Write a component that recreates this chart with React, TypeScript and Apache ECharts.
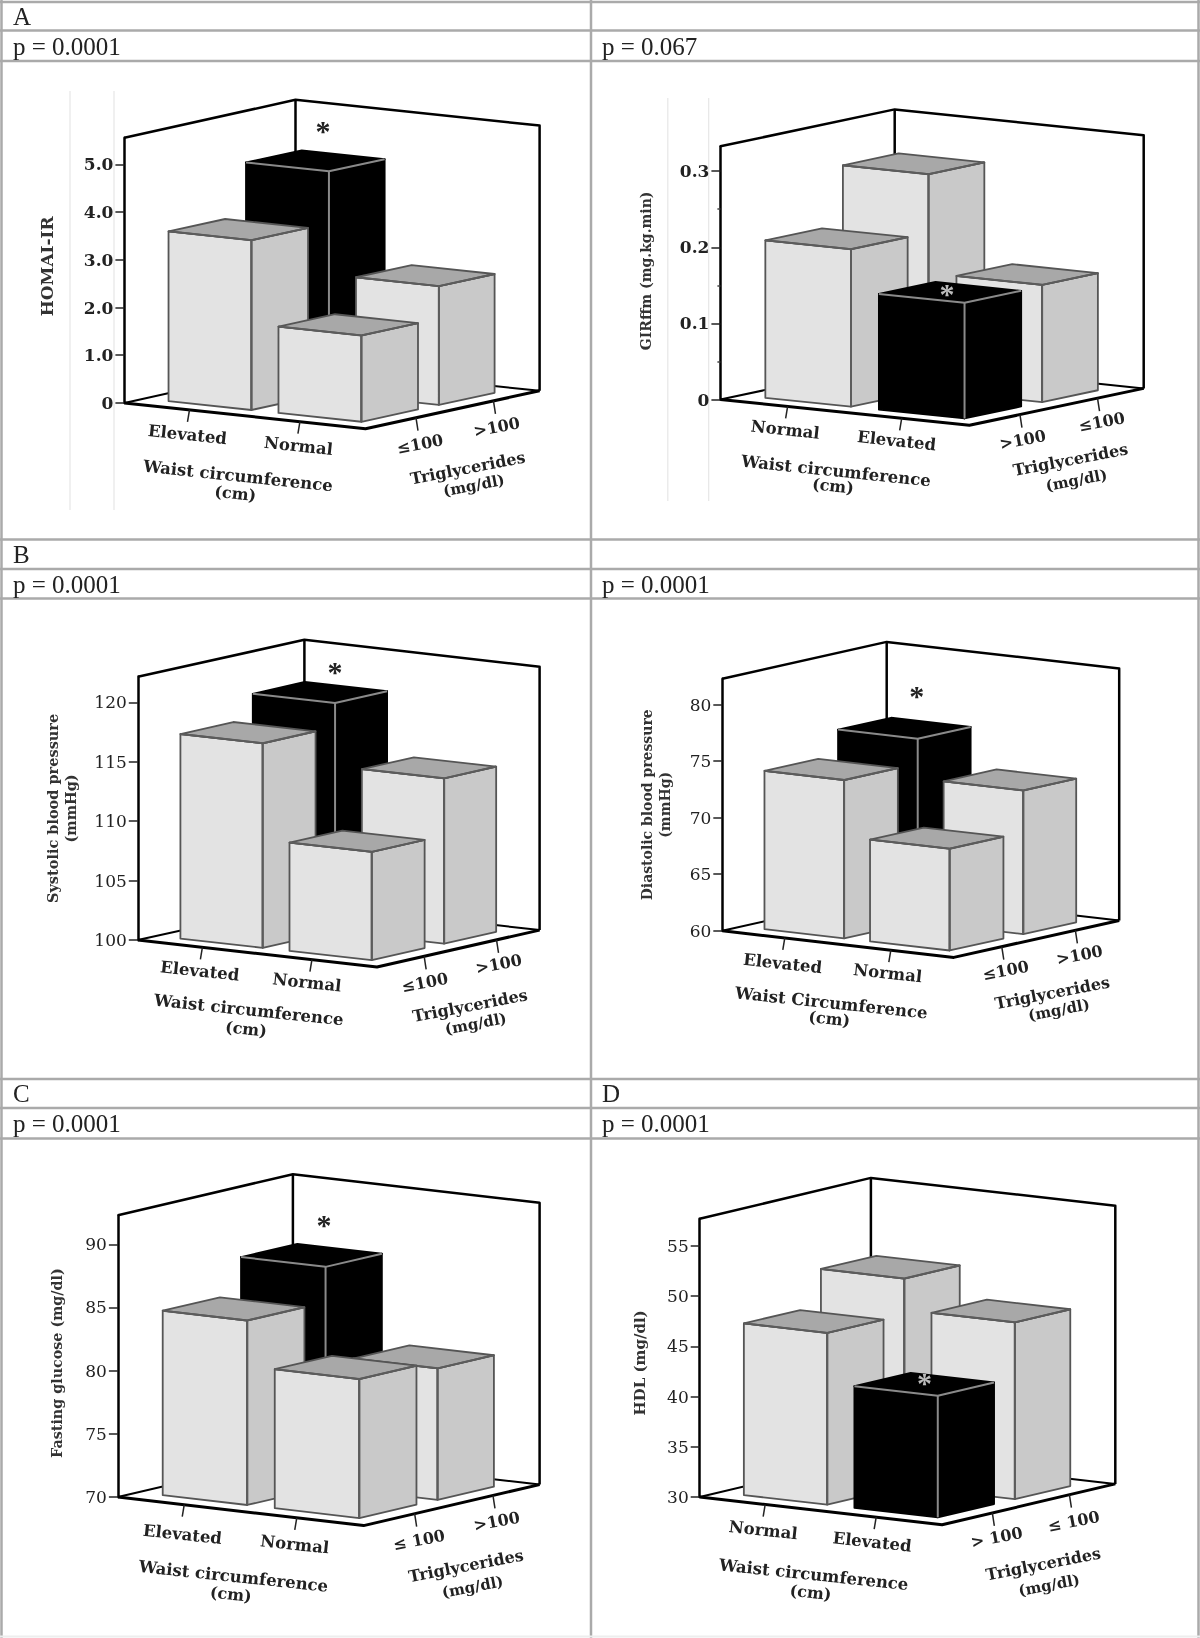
import React, { useEffect, useRef } from "react";
import * as echarts from "echarts";

// ---- categories (left to right along each floor axis) ----
const waistElevatedFirst = ["Elevated", "Normal"];
const waistNormalFirst = ["Normal", "Elevated"];
const tgLowFirst = ["≤100", ">100"];
const tgHighFirst = [">100", "≤100"];
const tgLowFirstSpaced = ["≤ 100", ">100"];
const tgHighFirstSpaced = ["> 100", "≤ 100"];

// ---- series values: [back-left, back-right, front-left, front-right] ----
const homaValues = [4.65, 2.49, 3.56, 1.81];
const girValues = [0.284, 0.154, 0.207, 0.152];
const systolicValues = [119.2, 113.9, 117.2, 109.1];
const diastolicValues = [76.2, 72.7, 74.0, 69.0];
const glucoseValues = [87.4, 80.4, 84.6, 81.0];
const hdlValues = [50.7, 47.6, 47.1, 42.1];

// ---- y axis ticks ----
const homaTicks = [0, 1, 2, 3, 4, 5];
const girTicks = [0, 0.1, 0.2, 0.3];
const systolicTicks = [100, 105, 110, 115, 120];
const diastolicTicks = [60, 65, 70, 75, 80];
const glucoseTicks = [70, 75, 80, 85, 90];
const hdlTicks = [30, 35, 40, 45, 50, 55];

const cellOrder = [[0, 1], [1, 1], [0, 0], [1, 0]];
const uSpans = [[0.1, 0.444], [0.556, 0.9]];
const vSpans = [[0.115, 0.44], [0.56, 0.88]];
const uCentres = [0.27, 0.728];
const vCentres = [0.29, 0.735];

const serif = "'DejaVu Serif'";
const tableFont = "'Liberation Serif'";

const panels = [
  {
    p: "p = 0.0001", letter: "A", col: 0, row: 0,
    name: "HOMAI-IR", nameSize: 17, namePad: [0, 0, 0, 8], values: homaValues, ticks: homaTicks, min: 0, max: 5.56, interval: 1, black: 0,
    fmt: (v: number) => (v === 0 ? "0" : v.toFixed(1)),
    waist: waistElevatedFirst, tg: tgLowFirst, waistTitle: "Waist circumference", bold: true,
    g: { ox: 124.4, oy: 402.9, h: 265.2, ux: 241.1, uy: 25.8, vx: 174.1, vy: -37.9, nameX: 46.7, bdx: -3 },
    labels: [[187.5, 434.6], [298.5, 446], [238, 476], [235.4, 493.5], [420, 444], [496.7, 427], [467.7, 468], [473.8, 485.5]],
    star: [323, 129, "#222"], faint: [[70, 91, 510], [114, 91, 510]],
  },
  {
    p: "p = 0.067", letter: "", col: 1, row: 0,
    name: "GIRffm (mg.kg.min)", nameSize: 14, namePad: [0, 0, 0, 4], values: girValues, ticks: girTicks, min: 0, max: 0.3327, interval: 0.1, black: 3,
    fmt: (v: number) => (v === 0 ? "0" : v.toFixed(1)),
    waist: waistNormalFirst, tg: tgHighFirst, waistTitle: "Waist circumference", bold: true,
    g: { ox: 720.4, oy: 399.5, h: 253.2, ux: 249, uy: 25.8, vx: 174.3, vy: -36.9, nameX: 646.4, bdx: 0 },
    labels: [[785.3, 429.7], [896.6, 440.8], [836, 471], [833, 486], [1022.7, 439.7], [1101.7, 421.8], [1070.5, 459.7], [1076.4, 480.4]],
    star: [947, 292, "#bbb"], faint: [[667.8, 98, 501], [708.7, 98, 501]], minor: true,
  },
  {
    p: "p = 0.0001", letter: "B", col: 0, row: 1,
    name: "Systolic blood pressure\n(mmHg)", nameSize: 14.5, namePad: 0, values: systolicValues, ticks: systolicTicks, min: 100, max: 122.15, interval: 5, black: 0,
    fmt: (v: number) => String(v),
    waist: waistElevatedFirst, tg: tgLowFirst, waistTitle: "Waist circumference", bold: false,
    g: { ox: 137.8, oy: 940.1, h: 263.4, ux: 239.2, uy: 26.9, vx: 162.6, vy: -36.9, nameX: 61, bdx: 4 },
    labels: [[199.8, 971], [307, 982.5], [248.8, 1010], [246, 1029], [424.8, 982.5], [498.7, 964], [470, 1005.6], [475.7, 1023.8]],
    star: [334.9, 670, "#222"], faint: [],
  },
  {
    p: "p = 0.0001", letter: "", col: 1, row: 1,
    name: "Diastolic blood pressure\n(mmHg)", nameSize: 14, namePad: 0, values: diastolicValues, ticks: diastolicTicks, min: 60, max: 82.28, interval: 5, black: 0,
    fmt: (v: number) => String(v),
    waist: waistElevatedFirst, tg: tgLowFirst, waistTitle: "Waist Circumference", bold: false,
    g: { ox: 722.3, oy: 930.8, h: 252, ux: 231.5, uy: 26.6, vx: 165.4, vy: -36.9, nameX: 656, bdx: -1 },
    labels: [[782.6, 963.5], [887.7, 973.2], [831.2, 1003], [829.3, 1018.7], [1005.6, 970.4], [1079.5, 955], [1052.3, 992.8], [1058.9, 1010]],
    star: [916.8, 694.3, "#222"], faint: [],
  },
  {
    p: "p = 0.0001", letter: "C", col: 0, row: 2,
    name: "Fasting glucose (mg/dl)", nameSize: 14.3, namePad: [0, 14, 0, 0], values: glucoseValues, ticks: glucoseTicks, min: 70, max: 92.3, interval: 5, black: 0,
    fmt: (v: number) => String(v),
    waist: waistElevatedFirst, tg: tgLowFirstSpaced, waistTitle: "Waist circumference", bold: false,
    g: { ox: 117.9, oy: 1497, h: 281.8, ux: 245.7, uy: 28.6, vx: 176, vy: -41, nameX: 57.4, bdx: -1 },
    labels: [[182.5, 1534.4], [294.7, 1544.4], [233.4, 1576.4], [230.8, 1594.2], [419, 1540], [496.7, 1521.3], [466, 1565.8], [472.6, 1587]],
    star: [324, 1223, "#222"], faint: [],
  },
  {
    p: "p = 0.0001", letter: "D", col: 1, row: 2,
    name: "HDL (mg/dl)", nameSize: 15, namePad: [0, 10, 0, 0], values: hdlValues, ticks: hdlTicks, min: 30, max: 57.7, interval: 5, black: 3,
    fmt: (v: number) => String(v),
    waist: waistNormalFirst, tg: tgHighFirstSpaced, waistTitle: "Waist circumference", bold: false,
    g: { ox: 699.7, oy: 1497, h: 278.2, ux: 242.4, uy: 27.8, vx: 173.2, vy: -40.9, nameX: 639.8, bdx: -2 },
    labels: [[763.2, 1530.2], [872.1, 1542], [813.7, 1574.7], [810.6, 1592.5], [996.6, 1537.3], [1073.7, 1521.3], [1043.3, 1564], [1049.1, 1585.3]],
    star: [924.6, 1381.4, "#bbb"], faint: [],
  },
];

const rowLines = [2, 30.5, 61, 539.5, 569, 598.5, 1079, 1108, 1138.5];
const colLines = [1.5, 591, 1198.5];
const rowText = [[16, 46], [554, 584], [1093, 1123]];
const colText = [13, 602];

const project = (api: any, g: any, span: number) => (u: number, v: number, z: number) => {
  const c = api.coord([(u * g.ux + v * g.vx) / span, z]);
  return [c[0], c[1] + u * g.uy + v * g.vy];
};

const line = (points: number[][], stroke: string, lineWidth: number) => ({
  type: "polyline",
  shape: { points },
  style: { stroke, lineWidth, fill: "none", lineJoin: "round" },
});

const frameRender = (panel: any) => (_: any, api: any) => {
  const g = panel.g;
  const pt = project(api, g, g.ux + g.vx);
  const lo = panel.min;
  const hi = panel.max;
  const backTop = pt(0, 1, hi);
  const backLow = pt(0, 1, lo);
  backTop[0] += g.bdx;
  backLow[0] += g.bdx;
  const children: any[] = [
    line([pt(0, 0, hi), backTop, pt(1, 1, hi), pt(1, 1, lo)], "#000", 2.5),
    line([backTop, backLow], "#000", 2.5),
    line([pt(0, 0, lo), backLow, pt(1, 1, lo)], "#000", 2),
    line([pt(0, 0, lo), pt(1, 0, lo), pt(1, 1, lo)], "#000", 3),
  ];
  uCentres.forEach((u) => {
    const a = pt(u, 0, lo);
    children.push(line([a, [a[0] - 2, a[1] + 12]], "#222", 1.5));
  });
  vCentres.forEach((v) => {
    const a = pt(1, v, lo);
    children.push(line([a, [a[0] + 2, a[1] + 13]], "#222", 1.5));
  });
  return { type: "group", children };
};

const barRender = (panel: any) => (params: any, api: any) => {
  const g = panel.g;
  const pt = project(api, g, g.ux + g.vx);
  const wi = api.value(0);
  const ti = api.value(1);
  const val = api.value(2);
  const isBlack = params.dataIndex === panel.black;
  const [u0, u1] = uSpans[wi];
  const [v0, v1] = vSpans[ti];
  const lo = panel.min;
  const edge = isBlack ? "#000" : "#555";
  const inner = isBlack ? "#8a8a8a" : "#5c5c5c";
  const face = (points: number[][], fill: string) => ({
    type: "polygon",
    shape: { points },
    style: { fill, stroke: edge, lineWidth: 1.8, lineJoin: "round" },
  });
  const topFill = isBlack ? "#000" : "#a8a8a8";
  return {
    type: "group",
    children: [
      face([pt(u0, v0, lo), pt(u1, v0, lo), pt(u1, v0, val), pt(u0, v0, val)], isBlack ? "#000" : "#e3e3e3"),
      face([pt(u1, v0, lo), pt(u1, v1, lo), pt(u1, v1, val), pt(u1, v0, val)], isBlack ? "#000" : "#c9c9c9"),
      face([pt(u0, v0, val), pt(u1, v0, val), pt(u1, v1, val), pt(u0, v1, val)], topFill),
      line([pt(u0, v0, val), pt(u1, v0, val), pt(u1, v1, val)], inner, 2),
      line([pt(u1, v0, val), pt(u1, v0, lo)], inner, 2),
    ],
  };
};

const txt = (text: string, x: number, y: number, size: number, opts: any = {}) => ({
  type: "text",
  x,
  y,
  rotation: opts.rotation ?? 0,
  z: opts.z ?? 50,
  style: {
    text,
    fontFamily: opts.family ?? serif,
    fontSize: size,
    fontWeight: opts.weight ?? "normal",
    fill: opts.fill ?? "#222",
    align: opts.align ?? "center",
    verticalAlign: "middle",
  },
});

const buildOption = () => {
  const graphic: any[] = [];
  rowLines.forEach((y) =>
    graphic.push({ type: "line", z: 0, shape: { x1: 0, y1: y, x2: 1200, y2: y }, style: { stroke: "#aaa", lineWidth: 2.5 } })
  );
  colLines.forEach((x) =>
    graphic.push({ type: "line", z: 0, shape: { x1: x, y1: 0, x2: x, y2: 1638 }, style: { stroke: "#aaa", lineWidth: 2.5 } })
  );
  graphic.push({ type: "line", z: 0, shape: { x1: 0, y1: 1636.5, x2: 1200, y2: 1636.5 }, style: { stroke: "#eee", lineWidth: 2 } });
  rowText.forEach(([ly, py], r) => {
    colText.forEach((x, c) => {
      const panel = panels.find((q) => q.row === r && q.col === c)!;
      if (panel.letter) graphic.push(txt(panel.letter, x, ly, 25, { family: tableFont, fill: "#222", align: "left" }));
      graphic.push(txt(panel.p, x, py, 25, { family: tableFont, fill: "#222", align: "left" }));
    });
  });
  const grid: any[] = [];
  const xAxis: any[] = [];
  const yAxis: any[] = [];
  const series: any[] = [];
  panels.forEach((panel, i) => {
    const g = panel.g;
    const weight = "bold";
    grid.push({ left: g.ox, top: g.oy - g.h, width: g.ux + g.vx, height: g.h });
    xAxis.push({ type: "value", gridIndex: i, min: 0, max: 1, show: false });
    yAxis.push({
      type: "value",
      gridIndex: i,
      min: panel.min,
      max: panel.max,
      interval: panel.interval,
      name: panel.name,
      nameLocation: "middle",
      nameRotate: 90,
      nameGap: g.ox - g.nameX,
      nameTextStyle: {
        fontFamily: serif, fontSize: panel.nameSize, fontWeight: weight, color: "#333",
        align: "center", verticalAlign: "middle", lineHeight: 18, padding: panel.namePad,
      },
      axisLine: { show: true, onZero: false, lineStyle: { color: "#000", width: 2.5 } },
      axisTick: { show: true, length: 9, customValues: panel.ticks, lineStyle: { color: "#222", width: 1.5 } },
      minorTick: panel.minor ? { show: true, splitNumber: 2, length: 3, lineStyle: { color: "#444", width: 1.5 } } : { show: false },
      axisLabel: {
        customValues: panel.ticks,
        margin: 11,
        formatter: panel.fmt,
        fontFamily: serif,
        fontSize: 17,
        fontWeight: panel.bold ? "bold" : "normal",
        color: "#222",
      },
      splitLine: { show: false },
    });
    series.push({
      type: "custom",
      xAxisIndex: i,
      yAxisIndex: i,
      clip: false,
      silent: true,
      z: 1,
      renderItem: frameRender(panel),
      data: [[0, panel.min]],
    });
    series.push({
      type: "custom",
      xAxisIndex: i,
      yAxisIndex: i,
      clip: false,
      silent: true,
      z: 2,
      renderItem: barRender(panel),
      encode: { x: 0, y: 2 },
      data: cellOrder.map(([w, t], k) => [w, t, panel.values[k]]),
    });
    const L = panel.labels;
    const u = { rotation: -0.105, weight };
    const v = { rotation: 0.19, weight };
    graphic.push(txt(panel.waist[0], L[0][0], L[0][1], 16.5, u));
    graphic.push(txt(panel.waist[1], L[1][0], L[1][1], 16.5, u));
    graphic.push(txt(panel.waistTitle, L[2][0], L[2][1], 16.5, u));
    graphic.push(txt("(cm)", L[3][0], L[3][1], 16, u));
    graphic.push(txt(panel.tg[0], L[4][0], L[4][1], 16, v));
    graphic.push(txt(panel.tg[1], L[5][0], L[5][1], 16, v));
    graphic.push(txt("Triglycerides", L[6][0], L[6][1], 16, v));
    graphic.push(txt("(mg/dl)", L[7][0], L[7][1], 15, v));
    graphic.push(txt("*", panel.star[0] as number, (panel.star[1] as number) + 1, 30, { family: tableFont, weight: "bold", fill: panel.star[2], z: 100 }));
    panel.faint.forEach(([x, y1, y2]) =>
      graphic.push({ type: "line", z: 0, shape: { x1: x, y1, x2: x, y2 }, style: { stroke: "#e6e6e6", lineWidth: 1.2 } })
    );
  });
  return { animation: false, backgroundColor: "#fff", grid, xAxis, yAxis, series, graphic };
};

export default function App() {
  const ref = useRef<HTMLDivElement>(null);
  useEffect(() => {
    document.body.style.margin = "0";
    const chart = echarts.init(ref.current!, undefined, { renderer: "svg" });
    chart.setOption(buildOption() as any);
    return () => chart.dispose();
  }, []);
  return <div ref={ref} style={{ width: 1200, height: 1638, filter: "blur(0.7px)" }} />;
}
